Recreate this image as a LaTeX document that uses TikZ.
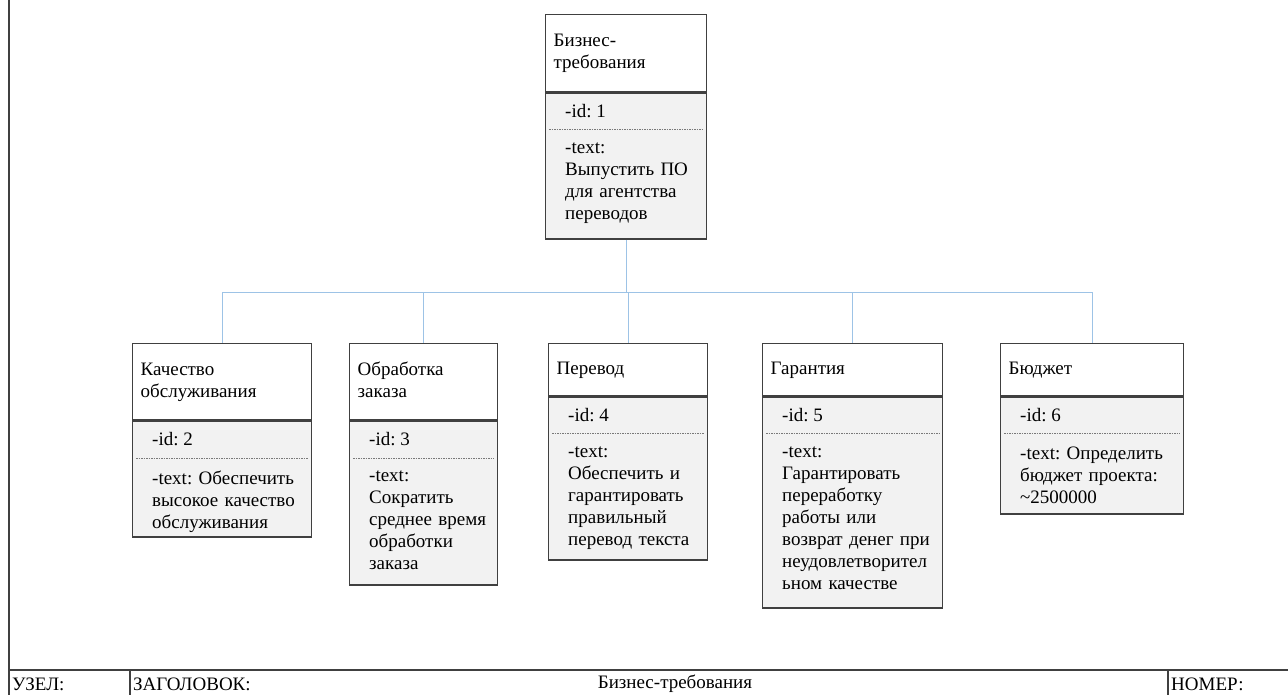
\documentclass[tikz,border=0pt]{standalone}
\usepackage{fontspec}
\setmainfont{Liberation Serif}
\usetikzlibrary{positioning}

\definecolor{boxline}{HTML}{404040}
\definecolor{boxfill}{HTML}{F2F2F2}
\definecolor{linkblue}{HTML}{9DC3E6}

\tikzset{
	txt/.style={font=\fontsize{19}{22}\selectfont\frenchspacing, inner sep=0pt},
	head/.style={txt, shape=rectangle, draw=boxline, line width=1.4pt, fill=white, anchor=north west, align=left, inner xsep=8pt,
		execute at begin node=\strut, execute at end node=\strut},
	body/.style={shape=rectangle, draw=boxline, line width=1.4pt, fill=boxfill, anchor=north west},
	field/.style={txt, anchor=north west, align=left},
	sep/.style={draw=boxline!70, line width=0.8pt, dash pattern=on 1.5pt off 1pt},
	link/.style={draw=linkblue, line width=1.3pt},
	frame/.style={draw=boxline, line width=1.2pt}
}

\begin{document}
\begin{tikzpicture}[x=1pt, y=-1pt]
	\useasboundingbox (0,0) rectangle (1288,695);

	\node[head, minimum width=161pt, minimum height=77pt, text width=145pt] (h0) at (545, 14) {Бизнес-\\требования};
	\node[body, minimum width=161pt, minimum height=146pt] (b0) at (h0.south west) {};
	\node[field, below right=12pt and 20pt of b0.north west] (i0) {-id: 1};
	\node[field, below right=50pt and 20pt of b0.north west, text width=138pt] (t0) {-text:\\Выпустить ПО\\для агентства\\переводов};
	\draw[sep] ([xshift=4pt, yshift=-37pt]b0.north west) -- ([xshift=-4pt, yshift=-37pt]b0.north east);

	\node[head, minimum width=179pt, minimum height=76pt, text width=163pt] (h1) at (132, 343) {Качество\\обслуживания};
	\node[body, minimum width=179pt, minimum height=116pt] (b1) at (h1.south west) {};
	\node[field, below right=12pt and 20pt of b1.north west] (i1) {-id: 2};
	\node[field, below right=50pt and 20pt of b1.north west, text width=158pt] (t1) {-text: Обеспечить\\высокое качество\\обслуживания};
	\draw[sep] ([xshift=4pt, yshift=-38pt]b1.north west) -- ([xshift=-4pt, yshift=-38pt]b1.north east);

	\node[head, minimum width=148pt, minimum height=76pt, text width=132pt] (h2) at (349, 343) {Обработка\\заказа};
	\node[body, minimum width=148pt, minimum height=164pt] (b2) at (h2.south west) {};
	\node[field, below right=12pt and 20pt of b2.north west] (i2) {-id: 3};
	\node[field, below right=50pt and 20pt of b2.north west, text width=127pt] (t2) {-text:\\Сократить\\среднее время\\обработки\\заказа};
	\draw[sep] ([xshift=4pt, yshift=-38pt]b2.north west) -- ([xshift=-4pt, yshift=-38pt]b2.north east);

	\node[head, minimum width=159pt, minimum height=52pt, text width=143pt] (h3) at (548, 343) {Перевод};
	\node[body, minimum width=159pt, minimum height=163pt] (b3) at (h3.south west) {};
	\node[field, below right=12pt and 20pt of b3.north west] (i3) {-id: 4};
	\node[field, below right=50pt and 20pt of b3.north west, text width=138pt] (t3) {-text:\\Обеспечить и\\гарантировать\\правильный\\перевод текста};
	\draw[sep] ([xshift=4pt, yshift=-37pt]b3.north west) -- ([xshift=-4pt, yshift=-37pt]b3.north east);

	\node[head, minimum width=180pt, minimum height=52pt, text width=164pt] (h4) at (762, 343) {Гарантия};
	\node[body, minimum width=180pt, minimum height=211pt] (b4) at (h4.south west) {};
	\node[field, below right=12pt and 20pt of b4.north west] (i4) {-id: 5};
	\node[field, below right=50pt and 20pt of b4.north west, text width=159pt] (t4) {-text:\\Гарантировать\\переработку\\работы или\\возврат денег при\\неудовлетворител\\ьном качестве};
	\draw[sep] ([xshift=4pt, yshift=-37pt]b4.north west) -- ([xshift=-4pt, yshift=-37pt]b4.north east);

	\node[head, minimum width=183pt, minimum height=52pt, text width=167pt] (h5) at (1000, 343) {Бюджет};
	\node[body, minimum width=183pt, minimum height=117pt] (b5) at (h5.south west) {};
	\node[field, below right=12pt and 20pt of b5.north west] (i5) {-id: 6};
	\node[field, below right=50pt and 20pt of b5.north west, text width=162pt] (t5) {-text: Определить\\бюджет проекта:\\\textasciitilde2500000};
	\draw[sep] ([xshift=4pt, yshift=-37pt]b5.north west) -- ([xshift=-4pt, yshift=-37pt]b5.north east);

	% connectors
	\coordinate (bus) at ([yshift=-53pt]b0.south);
	\draw[link] (b0.south) -- (bus);
	\draw[link] (bus) -| (h1.north);
	\draw[link] (bus) -| (h2.north);
	\draw[link] (bus) -| (h3.north);
	\draw[link] (bus) -| (h4.north);
	\draw[link] (bus) -| (h5.north);

	% title block
	\draw[frame] (9,0) -- (9,695);
	\draw[frame] (9,670) -- (1288,670);
	\draw[frame] (130,670) -- (130,695);
	\draw[frame] (1168,670) -- (1168,695);
	\node[txt, anchor=west] (node) at (12, 684) {УЗЕЛ:};
	\node[txt, anchor=west] (title) at (133, 684) {ЗАГОЛОВОК:};
	\node[txt] (name) at (675, 684) {Бизнес-требования};
	\node[txt, anchor=west] (number) at (1171, 684) {НОМЕР:};
\end{tikzpicture}
\end{document}
